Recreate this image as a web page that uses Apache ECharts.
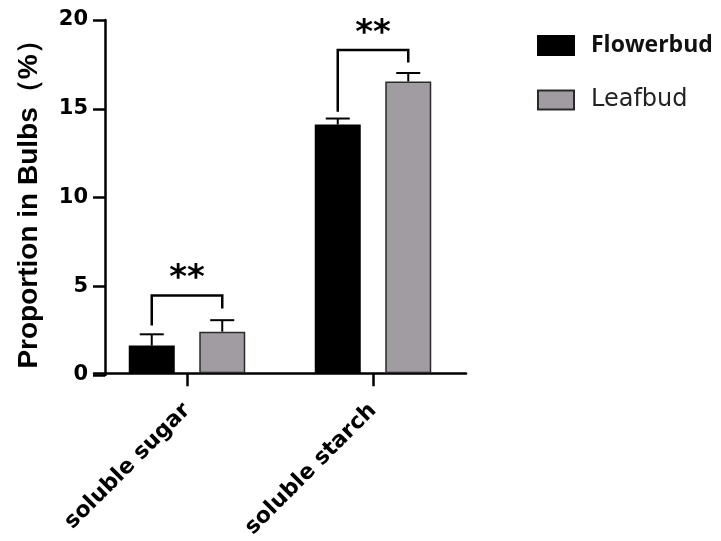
<!DOCTYPE html>
<html>
<head>
<meta charset="utf-8">
<script src="https://cdn.jsdelivr.net/npm/echarts@6/dist/echarts.min.js"></script>
<style>html,body{margin:0;padding:0;background:#fff;}#c{width:721px;height:541px;}</style>
</head>
<body>
<div id="c"></div>
<script>
// ---- data ----
const categories = ['soluble sugar', 'soluble starch'];
const seriesNames = ['Flowerbud', 'Leafbud'];
const flowerbud = [1.56, 14.08];
const leafbud = [2.35, 16.52];
const flowerbudErr = [0.64, 0.34];
const leafbudErr = [0.65, 0.48];
const sigLabels = ['**', '**'];
const bracketLeftEnd = [2.7, 14.8];
const bracketRightEnd = [3.66, 17.6];
const bracketTop = [4.4, 18.3];
const yTicks = [0, 5, 10, 15, 20];

// ---- layout constants ----
const BAR_W = 46;
const BAR_GAP_PX = 24.5;
const HALF = (BAR_W + BAR_GAP_PX) / 2;
const GRAY = '#a09ca2';

const chart = echarts.init(document.getElementById('c'));

const errData = [];
categories.forEach((c, i) => {
  errData.push([i, flowerbud[i], flowerbud[i] + flowerbudErr[i], -1]);
  errData.push([i, leafbud[i], leafbud[i] + leafbudErr[i], 1]);
});
const brData = categories.map((c, i) => [i, bracketLeftEnd[i], bracketRightEnd[i], bracketTop[i]]);

const yMin = yTicks[0], yMax = yTicks[yTicks.length - 1];

chart.setOption({
  backgroundColor: '#fff',
  animation: false,
  grid: [
    { left: 94, top: 20, width: 372, height: 355 },
    { left: 105, top: 20, width: 361, height: 355 }
  ],
  legend: {
    orient: 'vertical',
    left: 537,
    top: 34,
    padding: 0,
    itemWidth: 36,
    itemHeight: 19,
    itemGap: 31,
    selectedMode: false,
    data: [
      { name: seriesNames[0], icon: 'rect', textStyle: { fontFamily: 'Open Sans', fontWeight: 'bold', fontSize: 23, color: '#111', padding: [0, 0, 0, 12] } },
      { name: seriesNames[1], icon: 'rect', textStyle: { fontFamily: 'DejaVu Sans', fontWeight: 'normal', fontSize: 24, color: '#222', padding: [0, 0, 0, 12] } }
    ]
  },
  xAxis: [
    {
      type: 'category',
      gridIndex: 0,
      data: categories,
      axisLine: { show: true, lineStyle: { color: '#000', width: 2.5 } },
      axisTick: { show: true, alignWithLabel: true, length: 13, lineStyle: { color: '#000', width: 2.5 } },
      axisLabel: { rotate: 45, margin: 34, fontFamily: 'DejaVu Sans', fontWeight: 'bold', fontSize: 22, color: '#000' },
      splitLine: { show: false }
    },
    { type: 'value', gridIndex: 1, show: false, min: 0, max: 1 }
  ],
  yAxis: [
    {
      type: 'value', gridIndex: 0, show: false,
      min: yMin, max: yMax, interval: 5
    },
    {
      type: 'value',
      gridIndex: 1,
      min: yMin,
      max: yMax,
      interval: 5,
      name: 'Proportion in Bulbs（%）',
      nameLocation: 'middle',
      nameGap: 62,
      nameTextStyle: { fontFamily: 'Liberation Sans', fontWeight: 'bold', fontSize: 28, color: '#000' },
      axisLine: { show: true, lineStyle: { color: '#000', width: 2.5 } },
      axisTick: { show: true, length: 12, lineStyle: { color: '#000', width: 2.5 } },
      axisLabel: { margin: 17, fontFamily: 'DejaVu Sans', fontWeight: 'bold', fontSize: 21, color: '#000' },
      splitLine: { show: false }
    }
  ],
  series: [
    {
      name: seriesNames[0], type: 'bar', data: flowerbud, xAxisIndex: 0, yAxisIndex: 0,
      barWidth: BAR_W, barGap: (BAR_GAP_PX / BAR_W * 100) + '%',
      itemStyle: { color: '#000', borderColor: '#000', borderWidth: 1.5 }
    },
    {
      name: seriesNames[1], type: 'bar', data: leafbud, xAxisIndex: 0, yAxisIndex: 0,
      barWidth: BAR_W,
      itemStyle: { color: GRAY, borderColor: '#2a2a2a', borderWidth: 1.5 }
    },
    {
      type: 'custom', name: 'err', data: errData, z: 5, xAxisIndex: 0, yAxisIndex: 0,
      renderItem: function (params, api) {
        const i = api.value(0);
        const side = api.value(3);
        const p0 = api.coord([i, api.value(1)]);
        const p1 = api.coord([i, api.value(2)]);
        const x = p0[0] + side * HALF;
        const st = { stroke: '#000', lineWidth: 2 };
        return {
          type: 'group', children: [
            { type: 'line', shape: { x1: x, y1: p0[1], x2: x, y2: p1[1] }, style: st },
            { type: 'line', shape: { x1: x - 12, y1: p1[1], x2: x + 12, y2: p1[1] }, style: st }
          ]
        };
      }
    },
    {
      type: 'custom', name: 'sig', data: brData, z: 5, xAxisIndex: 0, yAxisIndex: 0,
      renderItem: function (params, api) {
        const i = api.value(0);
        const pl = api.coord([i, api.value(1)]);
        const pr = api.coord([i, api.value(2)]);
        const pt = api.coord([i, api.value(3)]);
        const xl = pl[0] - HALF, xr = pl[0] + HALF;
        return {
          type: 'group', children: [
            { type: 'polyline', shape: { points: [[xl, pl[1]], [xl, pt[1]], [xr, pt[1]], [xr, pr[1]]] },
              style: { stroke: '#000', lineWidth: 2.5, fill: null } },
            { type: 'text', style: { x: pl[0], y: pt[1] - 16, text: sigLabels[params.dataIndex],
              fontFamily: 'DejaVu Sans', fontWeight: 'bold', fontSize: 34, fill: '#000',
              align: 'center', verticalAlign: 'middle' } }
          ]
        };
      }
    }
  ]
});
</script>
</body>
</html>
